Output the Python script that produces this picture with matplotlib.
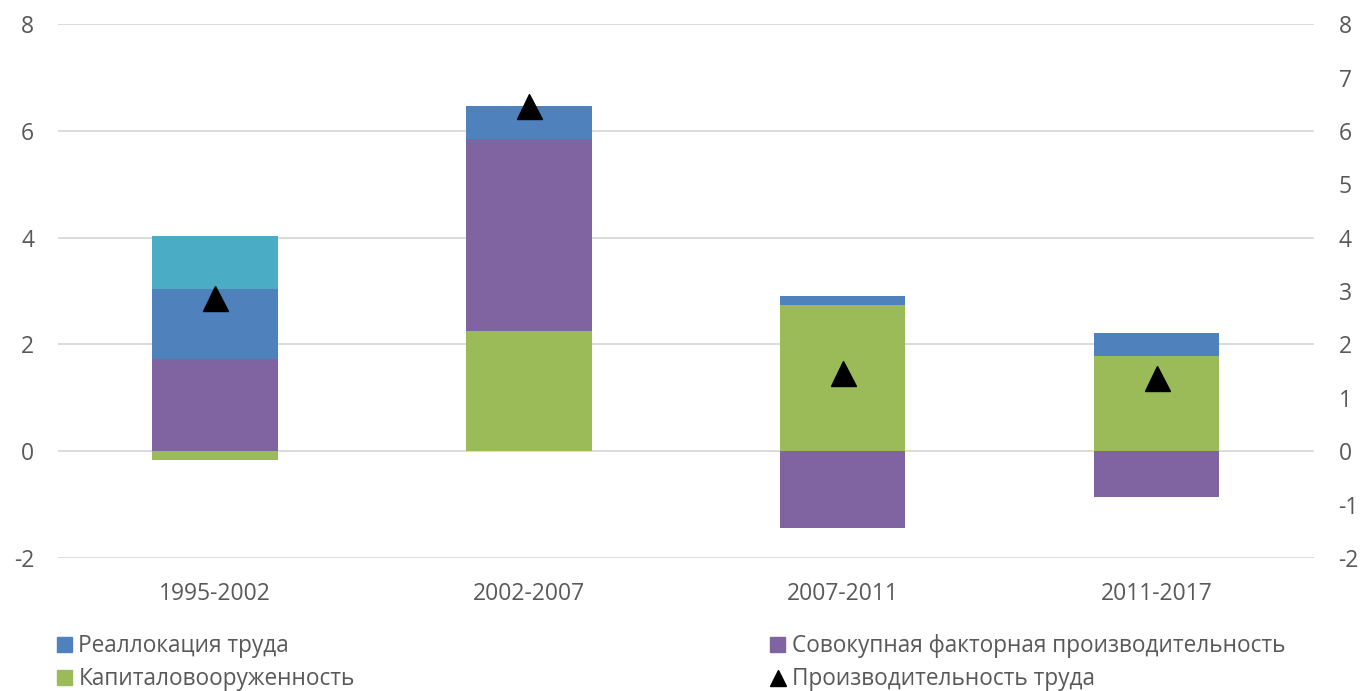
import matplotlib.pyplot as plt
import numpy as np
from matplotlib.patches import Patch
from matplotlib.lines import Line2D

plt.rcParams['font.family'] = ['Open Sans', 'DejaVu Sans']
plt.rcParams['axes.unicode_minus'] = False

# Data
periods = ['1995-2002', '2002-2007', '2007-2011', '2011-2017']
capital = [-0.17, 2.26, 2.74, 1.78]        # Капиталовооруженность
tfp = [1.73, 3.59, -1.43, -0.85]           # Совокупная факторная производительность
realloc = [1.30, 0.62, 0.17, 0.44]         # Реаллокация труда
other = [1.01, 0.0, 0.0, 0.0]              # unlabeled top segment (1995-2002)
labour_prod = [2.87, 6.47, 1.47, 1.37]     # Производительность труда

C_BLUE = '#4F81BD'
C_PURPLE = '#8064A2'
C_GREEN = '#9BBB59'
C_TEAL = '#4BACC6'
TXT = '#595959'

fig = plt.figure(figsize=(13.64, 6.91), dpi=100)
ax = fig.add_axes([0.0425, 0.1925, 0.9205, 0.7725])

x = np.arange(len(periods))
w = 0.40
cap = np.array(capital)
tf = np.array(tfp)
re = np.array(realloc)
ot = np.array(other)

# stacking: positives go up, negatives go down
pos_base = np.zeros(len(x))
neg_base = np.zeros(len(x))

def stack(vals, color):
    bottoms = np.where(vals >= 0, pos_base, neg_base)
    ax.bar(x, vals, w, bottom=bottoms, color=color, zorder=2)
    pos_base[:] += np.where(vals >= 0, vals, 0)
    neg_base[:] += np.where(vals < 0, vals, 0)

stack(cap, C_GREEN)
stack(tf, C_PURPLE)
stack(re, C_BLUE)
stack(ot, C_TEAL)

ax.plot(x, labour_prod, linestyle='none', marker='^', markersize=18,
        color='black', zorder=4)

ax.set_xlim(-0.5, len(x) - 0.5)
ax.set_ylim(-2, 8)
ax.set_yticks(np.arange(-2, 9, 2))
ax.set_xticks(x)
ax.set_xticklabels(periods)
ax.grid(axis='y', color='#D9D9D9', linewidth=1.3, zorder=0)
ax.set_axisbelow(True)
for s in ax.spines.values():
    s.set_visible(False)
ax.tick_params(length=0, labelsize=16.5, colors=TXT, pad=17)
ax.tick_params(axis='x', pad=17)

ax2 = ax.twinx()
ax2.set_ylim(-2, 8)
ax2.set_yticks(np.arange(-2, 9, 1))
for s in ax2.spines.values():
    s.set_visible(False)
ax2.tick_params(length=0, labelsize=16.5, colors=TXT, pad=18)

# legend in two columns
left_handles = [Patch(color=C_BLUE, label='Реаллокация труда'),
                Patch(color=C_GREEN, label='Капиталовооруженность')]
right_handles = [Patch(color=C_PURPLE, label='Совокупная факторная производительность'),
                 Line2D([], [], linestyle='none', marker='^', color='black',
                        markersize=11, label='Производительность труда')]
leg_kw = dict(frameon=False, fontsize=16.3, labelcolor=TXT, handlelength=0.65,
              handleheight=0.65, handletextpad=0.3, labelspacing=0.4,
              borderaxespad=0, loc='upper left')
fig.legend(handles=left_handles, bbox_to_anchor=(0.035, 0.095), **leg_kw)
fig.legend(handles=right_handles, bbox_to_anchor=(0.558, 0.095), **leg_kw)

fig.savefig('out.png', dpi=100)
